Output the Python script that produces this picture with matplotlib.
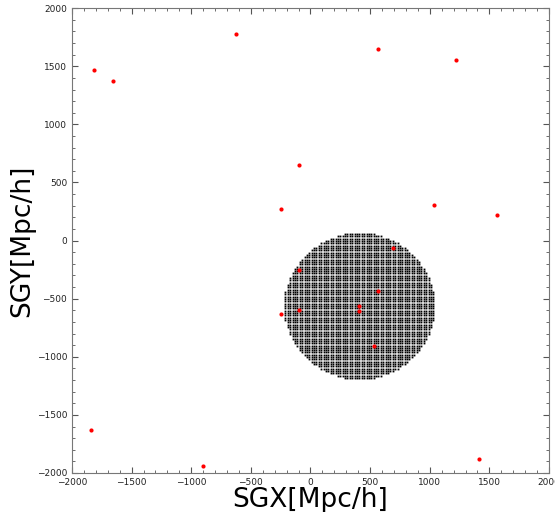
import numpy as np
import matplotlib
matplotlib.use("Agg")
import matplotlib.pyplot as plt

# survey volume: square grid of cells inside a disc
grid_center = (410, -563)
grid_radius = 632
grid_step = 20

# red points
sgx = [-1813, -1656, -622, 569, 1223, -93, -250, 1036, 1566, 692,
       -93, 569, 409, 409, -93, -250, 529, -1841, -902, 1410]
sgy = [1467, 1372, 1776, 1653, 1555, 649, 274, 305, 216, -62,
       -254, -438, -563, -604, -601, -630, -911, -1630, -1940, -1883]

n = int(grid_radius // grid_step)
g = np.arange(-n, n + 1) * grid_step
gx, gy = np.meshgrid(g, g)
inside = gx**2 + gy**2 <= grid_radius**2
gx = gx[inside] + grid_center[0]
gy = gy[inside] + grid_center[1]

fig = plt.figure(figsize=(5.55, 5.12), dpi=100)
ax = fig.add_axes([0.1297, 0.0762, 0.8595, 0.9078])
ax.plot(gx, gy, 's', ms=1.3, mew=0, color='black', linestyle='none')
ax.scatter(sgx, sgy, s=9, c='red', linewidths=0, zorder=3)

ax.set_xlim(-2000, 2000)
ax.set_ylim(-2000, 2000)
ax.set_xticks(np.arange(-2000, 2001, 500))
ax.set_yticks(np.arange(-2000, 2001, 500))
ax.set_xticks(np.arange(-2000, 2001, 100), minor=True)
ax.set_yticks(np.arange(-2000, 2001, 100), minor=True)
ax.tick_params(which='both', direction='in', top=True, right=True,
               color='#555555', labelsize=6.5, labelcolor='#222222')
ax.tick_params(which='major', length=4)
ax.tick_params(which='minor', length=2)
for s in ax.spines.values():
    s.set_color('#777777')
ax.set_xlabel('SGX[Mpc/h]', fontsize=19, labelpad=0)
ax.set_ylabel('SGY[Mpc/h]', fontsize=19, labelpad=1)

plt.savefig("out.png", dpi=100)
